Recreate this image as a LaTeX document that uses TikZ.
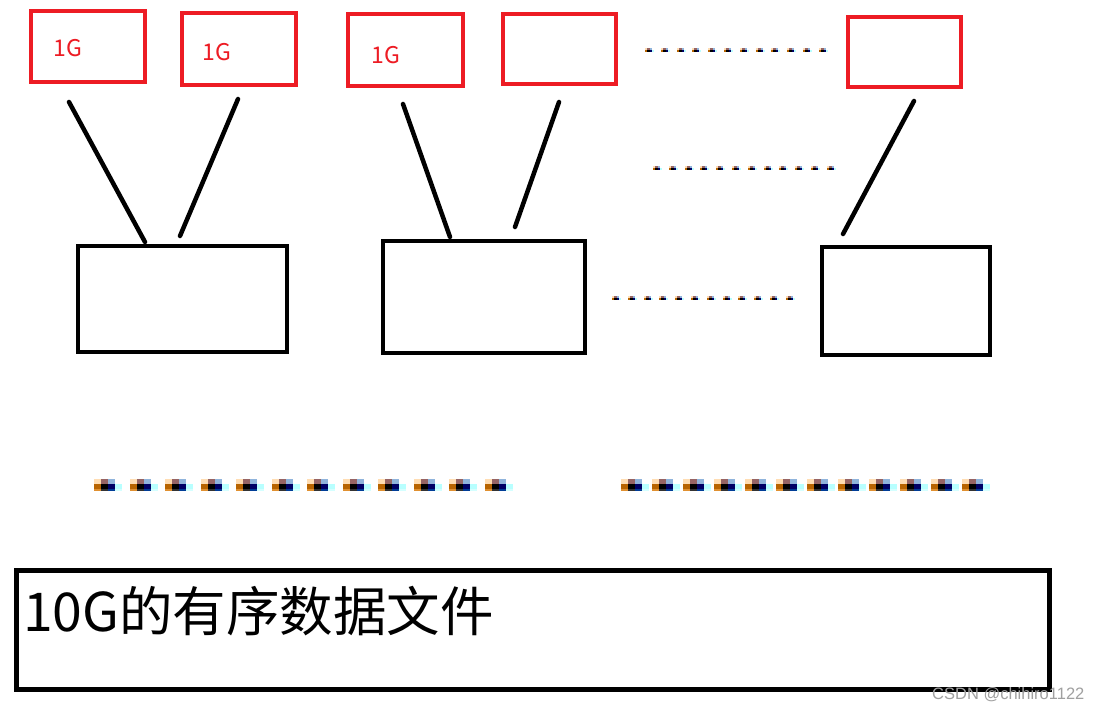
\documentclass[tikz,border=0pt]{standalone}
\usepackage{fontspec}
\setmainfont{Liberation Sans}
\newfontfamily\cjk{Noto Sans CJK SC}
\definecolor{pred}{RGB}{237,28,36}
\definecolor{wmgray}{RGB}{160,160,160}
\definecolor{fpeach}{RGB}{255,221,179}
\definecolor{forange}{RGB}{184,100,0}
\definecolor{fmauve}{RGB}{150,100,100}
\definecolor{fltblue}{RGB}{144,180,220}
\definecolor{fnavy}{RGB}{0,0,102}
\definecolor{fcyan}{RGB}{184,255,255}
\definecolor{florange}{RGB}{224,144,48}
\definecolor{fblue}{RGB}{0,60,150}
\tikzset{
  redbox/.style={draw=pred,line width=4pt,inner sep=0pt,fill=none},
  blkbox/.style={draw=black,line width=4.5pt,inner sep=0pt},
  bigbox/.style={draw=black,line width=5pt,inner sep=0pt},
  link/.style={draw=black,line width=4.5pt,line cap=round},
  onegee/.style={text=pred,inner sep=0pt,font=\cjk\fontsize{23}{23}\selectfont},
  smalldot/.pic={
    \fill[fpeach] (0,-2) rectangle (2,0);
    \fill[fmauve] (2,-2) rectangle (5,0);
    \fill[fltblue] (5,-2) rectangle (7,0);
    \fill[forange] (0,0) rectangle (2,2);
    \fill[black] (2,0) rectangle (5,2);
    \fill[fnavy] (5,0) rectangle (7,2);
    \fill[fcyan] (7,0) rectangle (9,2);
  },
  bigdot/.pic={
    \fill[fpeach] (0,-7.5) rectangle (7,-2.5);
    \fill[fmauve] (7,-7.5) rectangle (14,-2.5);
    \fill[fltblue] (14,-7.5) rectangle (21,-2.5);
    \fill[forange] (0,-2.5) rectangle (7,2.5);
    \fill[black] (7,-2.5) rectangle (14,2.5);
    \fill[fnavy] (14,-2.5) rectangle (21,2.5);
    \fill[fcyan] (21,-2.5) rectangle (28,2.5);
    \fill[florange] (0,2.5) rectangle (7,4.5);
    \fill[black!80] (7,2.5) rectangle (14,4.5);
    \fill[fblue] (14,2.5) rectangle (21,4.5);
    \fill[fcyan!60] (21,2.5) rectangle (28,4.5);
  }
}
\begin{document}
\begin{tikzpicture}[x=1pt,y=-1pt]
\useasboundingbox[fill=white] (0,0) rectangle (1099,709);

% red 1G boxes
\node[redbox,minimum width=114pt,minimum height=70pt] (r1) at (87.5,46.5) {};
\node[redbox,minimum width=114pt,minimum height=71.5pt] (r2) at (239,48.75) {};
\node[redbox,minimum width=115pt,minimum height=72pt] (r3) at (405.5,50) {};
\node[redbox,minimum width=113pt,minimum height=70pt] (r4) at (559.5,49) {};
\node[redbox,minimum width=113pt,minimum height=70pt] (r5) at (904.5,52) {};
\node[onegee] (t1) at (68,48) {1G};
\node[onegee] (t2) at (217,52) {1G};
\node[onegee] (t3) at (386,55) {1G};

% black merge boxes
\node[blkbox,minimum width=209pt,minimum height=106pt] (b1) at (182.5,299) {};
\node[blkbox,minimum width=202pt,minimum height=112pt] (b2) at (484,297) {};
\node[blkbox,minimum width=168pt,minimum height=108pt] (b3) at (906,301) {};

% connector end points
\coordinate (l1a) at (69,102);  \coordinate (l1b) at (145,242);
\coordinate (l2a) at (238,99);  \coordinate (l2b) at (180,236);
\coordinate (l3a) at (403,104); \coordinate (l3b) at (450,237);
\coordinate (l4a) at (559,102); \coordinate (l4b) at (515,227);
\coordinate (l5a) at (914,101); \coordinate (l5b) at (843,234);
\draw[link] (l1a) -- (l1b);
\draw[link] (l2a) -- (l2b);
\draw[link] (l3a) -- (l3b);
\draw[link] (l4a) -- (l4b);
\draw[link] (l5a) -- (l5b);

% small dotted rows
\foreach \i in {0,...,11}{
  \pic at ({645+15.8*\i},50) {smalldot};
  \pic at ({653+15.8*\i},168) {smalldot};
  \pic at ({612+15.8*\i},298) {smalldot};
}
% big dotted rows
\foreach \i in {0,...,11}{
  \pic at ({94+35.5*\i},486.5) {bigdot};
  \pic at ({621+31.0*\i},486.5) {bigdot};
}

% big file box
\node[bigbox,minimum width=1033pt,minimum height=118.5pt] (file) at (533,629.75) {};
\node[anchor=base west,inner sep=0pt,font=\cjk\fontsize{53.5}{53.5}\selectfont] (filetext) at (23,631) {10G的有序数据文件};

% watermark
\node[anchor=base west,inner sep=0pt,text=wmgray,font=\fontsize{16.5}{16.5}\selectfont] (wm) at (932,699) {CSDN @chihiro1122};
\end{tikzpicture}
\end{document}
